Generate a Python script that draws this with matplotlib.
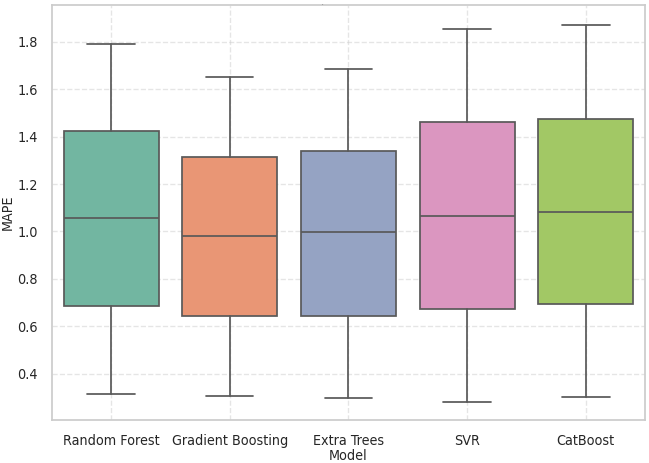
import matplotlib
matplotlib.use("Agg")
import matplotlib.pyplot as plt
import seaborn as sns

# Box statistics (MAPE)
models  = ["Random Forest", "Gradient Boosting", "Extra Trees", "SVR", "CatBoost"]
whislo  = [0.314, 0.306, 0.297, 0.281, 0.302]
q1      = [0.685, 0.644, 0.644, 0.673, 0.694]
medians = [1.056, 0.981, 0.998, 1.065, 1.082]
q3      = [1.423, 1.314, 1.339, 1.461, 1.474]
whishi  = [1.790, 1.651, 1.685, 1.854, 1.870]

sns.set_theme(style="whitegrid")
plt.rcParams["font.family"] = ["DejaVu Sans"]
plt.rcParams["font.stretch"] = "condensed"

palette = [sns.desaturate(c, 0.75) for c in sns.color_palette("Set2", len(models))]
LINE = (0.35, 0.35, 0.35)
FS = 10.3

stats = [dict(label=m, whislo=lo, q1=a, med=md, q3=b, whishi=hi, fliers=[])
         for m, lo, a, md, b, hi in zip(models, whislo, q1, medians, q3, whishi)]

fig, ax = plt.subplots(figsize=(6.49, 4.63), dpi=100)
fig.subplots_adjust(left=0.0797, right=0.994, top=0.989, bottom=0.093)

bp = ax.bxp(stats, positions=range(len(models)), widths=0.8, patch_artist=True,
            showfliers=False,
            boxprops=dict(edgecolor=LINE, linewidth=1.25),
            whiskerprops=dict(color=LINE, linewidth=1.25),
            capprops=dict(color=LINE, linewidth=1.25),
            medianprops=dict(color=LINE, linewidth=1.25))
for patch, col in zip(bp["boxes"], palette):
    patch.set_facecolor(col)

ax.set_xlim(-0.5, len(models) - 0.5)
ax.set_ylim(0.205, 1.955)
ax.set_xticks(range(len(models)))
ax.set_xticklabels(models)
ax.tick_params(axis="both", labelsize=FS, pad=4)
ax.set_xlabel("Model", fontsize=FS, labelpad=1)
ax.set_ylabel("MAPE", fontsize=FS, labelpad=2)
ax.grid(True, linestyle="--", alpha=0.5)
ax.set_axisbelow(True)
for s in ax.spines.values():
    s.set_color("#cccccc")

fig.text(0.496, 0.997, ".", fontsize=4, ha="center", va="top", color="#444444")

fig.savefig("out.png", dpi=100)
